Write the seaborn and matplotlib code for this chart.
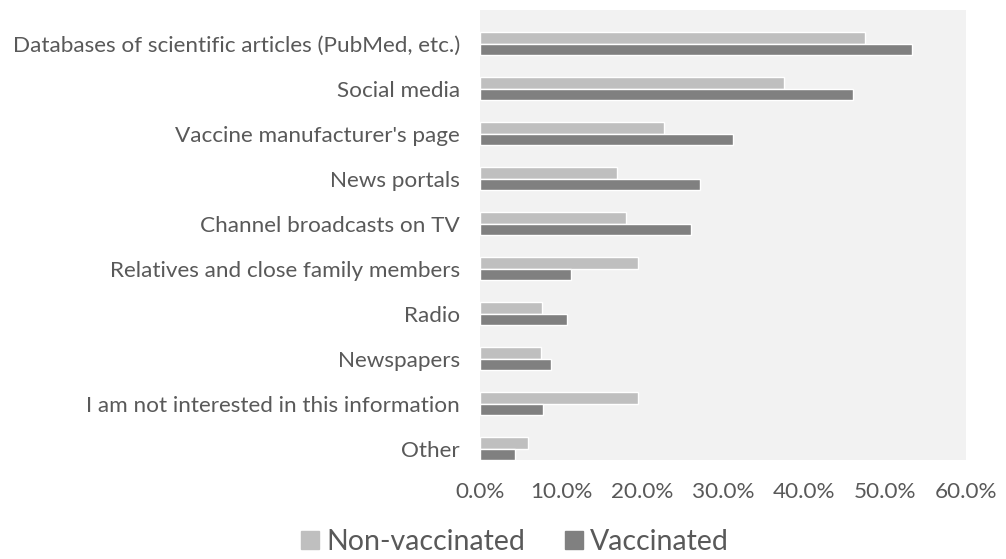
import matplotlib
matplotlib.use("Agg")
import matplotlib.pyplot as plt
import matplotlib.patches as mpatches
from matplotlib.ticker import FuncFormatter
import seaborn as sns
import pandas as pd

# Sources of vaccine information, share of respondents (%)
sources = [
    "Databases of scientific articles (PubMed, etc.)",
    "Social media",
    "Vaccine manufacturer's page",
    "News portals",
    "Channel broadcasts on TV",
    "Relatives and close family members",
    "Radio",
    "Newspapers",
    "I am not interested in this information",
    "Other",
]
non_vaccinated = [47.5, 37.5, 22.7, 16.9, 18.0, 19.5, 7.6, 7.5, 19.5, 5.9]
vaccinated = [53.3, 46.0, 31.2, 27.1, 26.0, 11.2, 10.8, 8.8, 7.8, 4.3]
groups = ["Non-vaccinated", "Vaccinated"]
x_ticks = [0, 10, 20, 30, 40, 50, 60]

df = pd.DataFrame({
    "source": sources * 2,
    "share": non_vaccinated + vaccinated,
    "group": [groups[0]] * len(sources) + [groups[1]] * len(sources),
})

sns.set_theme(style="white")
plt.rcParams["font.family"] = ["Lato", "DejaVu Sans"]

text_color = "#595959"
palette = {groups[0]: "#BFBFBF", groups[1]: "#808080"}

fig = plt.figure(figsize=(10.06, 5.59), dpi=100)
ax = fig.add_axes([480 / 1006, (559 - 460) / 559, 486 / 1006, 450 / 559])
ax.set_facecolor("#F2F2F2")

sns.barplot(
    data=df, y="source", x="share", hue="group", order=sources,
    hue_order=groups, palette=palette, width=0.5, orient="h",
    saturation=1, ax=ax, legend=False,
)

ax.set_xlim(0, 60)
ax.set_ylim(9.25, -0.745)
ax.set_xticks(x_ticks)
ax.xaxis.set_major_formatter(FuncFormatter(lambda v, _: f"{v:.1f}%"))
ax.set_xlabel("")
ax.set_ylabel("")
for s in ax.spines.values():
    s.set_visible(False)
ax.tick_params(axis="y", length=0, pad=14.5, labelsize=16.2, labelcolor=text_color)
ax.tick_params(axis="x", length=0, pad=15.5, labelsize=16.2, labelcolor=text_color)
ax.grid(False)

handles = [mpatches.Patch(color=palette[g], label=g) for g in groups]
fig.legend(
    handles=handles, loc="center", bbox_to_anchor=(515 / 1006, 1 - 542 / 559),
    ncol=2, frameon=False, fontsize=20.5, handlelength=0.62, handleheight=0.62,
    handletextpad=0.25, columnspacing=1.4, labelcolor=text_color,
    borderpad=0, borderaxespad=0,
)

fig.savefig("out.png", dpi=100, facecolor="white")
